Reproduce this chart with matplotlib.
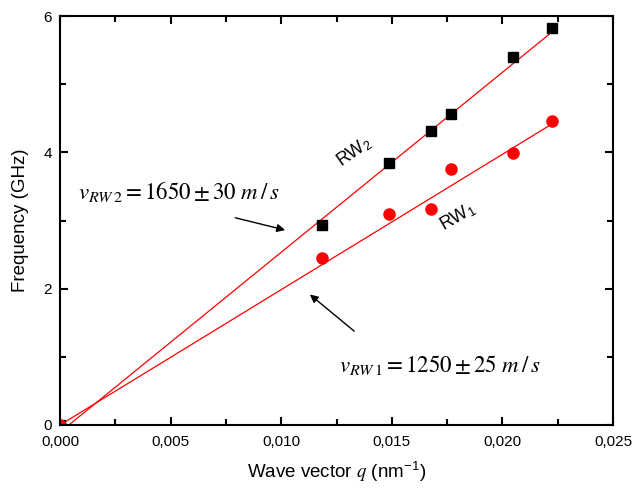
import numpy as np
import matplotlib.pyplot as plt
from matplotlib.ticker import MultipleLocator, FuncFormatter

plt.rcParams['font.family'] = ['Liberation Sans', 'DejaVu Sans']
plt.rcParams['mathtext.fontset'] = 'stix'

# measured points
q = [0.0, 0.01183, 0.01489, 0.01676, 0.01768, 0.02049, 0.02226]
f_rw2 = [0.0, 2.93, 3.84, 4.31, 4.56, 5.40, 5.82]
f_rw1 = [0.0, 2.45, 3.09, 3.17, 3.75, 3.99, 4.46]

# fit lines (end points)
fit2_q = [0.0004, 0.02226]
fit2_f = [0.0, 5.77]
fit1_q = [0.0, 0.02206]
fit1_f = [0.0, 4.38]

fig = plt.figure(figsize=(6.36, 4.91), dpi=100)
ax = fig.add_axes([60/636, 66/491, 553/636, 409/491])

ax.plot(fit2_q, fit2_f, color='red', lw=0.9)
ax.plot(fit1_q, fit1_f, color='red', lw=0.9)
ax.plot(q, f_rw2, 's', color='black', ms=7)
ax.plot(q, f_rw1, 'o', color='red', ms=8)

ax.set_xlim(0, 0.025)
ax.set_ylim(0, 6)
ax.xaxis.set_major_locator(MultipleLocator(0.005))
ax.xaxis.set_minor_locator(MultipleLocator(0.0025))
ax.yaxis.set_major_locator(MultipleLocator(2))
ax.yaxis.set_minor_locator(MultipleLocator(1))
ax.xaxis.set_major_formatter(FuncFormatter(lambda v, p: f"{v:.3f}".replace('.', ',')))
ax.yaxis.set_major_formatter(FuncFormatter(lambda v, p: f"{v:.0f}"))
ax.tick_params(which='both', direction='in', top=True, right=True, labelsize=11, width=1.5)
ax.tick_params(which='major', length=6)
ax.tick_params(which='minor', length=4)
ax.tick_params(axis='x', pad=7)
ax.tick_params(axis='y', pad=6)
for s in ax.spines.values():
    s.set_linewidth(1.5)

ax.set_xlabel(r"Wave vector $\mathit{q}$ (nm$^{\mathregular{-1}}$)", fontsize=13.5, labelpad=8)
ax.set_ylabel("Frequency (GHz)", fontsize=13.5, labelpad=10)

ax.text(0.0133, 4.0, r"RW$_{\mathregular{2}}$", fontsize=13, rotation=35, ha='center', va='center')
ax.text(0.0180, 3.05, r"RW$_{\mathregular{1}}$", fontsize=13, rotation=30, ha='center', va='center')

ax.text(0.0008, 3.43, r"$v_{RW\,2} = 1650 \pm 30\ m\,/\,s$", fontsize=16.5, ha='left', va='center')
ax.text(0.0126, 0.88, r"$v_{RW\,1} = 1250 \pm 25\ m\,/\,s$", fontsize=16.5, ha='left', va='center')

ax.annotate("", xy=(0.0103, 2.85), xytext=(0.0078, 3.05),
            arrowprops=dict(arrowstyle='-|>', color='black', lw=1, mutation_scale=12))
ax.annotate("", xy=(0.0112, 1.94), xytext=(0.0134, 1.35),
            arrowprops=dict(arrowstyle='-|>', color='black', lw=1, mutation_scale=12))

fig.savefig("out.png", dpi=100)
